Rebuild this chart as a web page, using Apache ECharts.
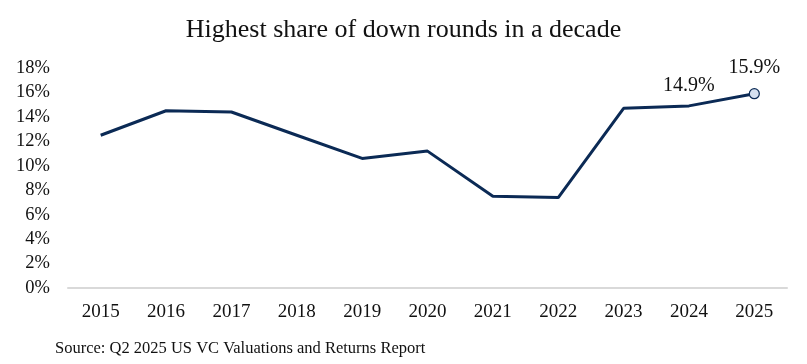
<!DOCTYPE html>
<html><head><meta charset="utf-8">
<script src="https://cdn.jsdelivr.net/npm/echarts@6/dist/echarts.min.js"></script>
<style>html,body{margin:0;padding:0;background:#fff}#c{width:807px;height:364px}</style>
</head><body><div id="c"></div>
<script>
const years = ['2015','2016','2017','2018','2019','2020','2021','2022','2023','2024','2025'];
const downShare = [12.5, 14.5, 14.4, 12.5, 10.6, 11.2, 7.5, 7.4, 14.7, 14.9, 15.9];
const labeledYears = ['2024','2025'];
const markerYears = ['2025'];
const titleText = 'Highest share of down rounds in a decade';
const sourceText = 'Source: Q2 2025 US VC Valuations and Returns Report';

const FONT = '"Liberation Serif", "DejaVu Serif", serif';
const seriesData = downShare.map((v, i) => {
  const y = years[i];
  const item = { value: v };
  if (labeledYears.includes(y)) {
    item.label = { show: true, position: 'top', distance: 10, formatter: p => p.value.toFixed(1) + '%' };
  }
  if (markerYears.includes(y)) {
    item.symbolSize = 10;
    item.itemStyle = { color: '#d5e0f0', borderColor: '#0b2a55', borderWidth: 1.2 };
  }
  return item;
});

const chart = echarts.init(document.getElementById('c'), null, { renderer: 'canvas' });
chart.setOption({
  animation: false,
  backgroundColor: '#fff',
  title: {
    text: titleText, left: 'center', top: 12,
    textStyle: { fontFamily: FONT, fontSize: 26, fontWeight: 'normal', color: '#111' }
  },
  graphic: [{
    type: 'text', left: 55, top: 340,
    style: { text: sourceText, font: '16.5px ' + FONT, fill: '#111' }
  }],
  grid: { left: 68, right: 20, top: 68, bottom: 76 },
  xAxis: {
    type: 'category', data: years, boundaryGap: true,
    axisLine: { show: true, lineStyle: { color: '#d9d9d9', width: 2 } },
    axisTick: { show: false },
    axisLabel: { fontFamily: FONT, fontSize: 19, color: '#111', margin: 15 }
  },
  yAxis: {
    type: 'value', min: 0, max: 18, interval: 2,
    splitLine: { show: false },
    axisLine: { show: false }, axisTick: { show: false },
    axisLabel: { fontFamily: FONT, fontSize: 18.5, color: '#111', margin: 18, formatter: v => v + '%' }
  },
  series: [{
    type: 'line', data: seriesData,
    symbol: 'circle', symbolSize: 0, showSymbol: true,
    lineStyle: { color: '#0b2a55', width: 3 },
    itemStyle: { color: '#0b2a55' },
    label: { fontFamily: FONT, fontSize: 20, color: '#111' }
  }]
});
</script></body></html>
